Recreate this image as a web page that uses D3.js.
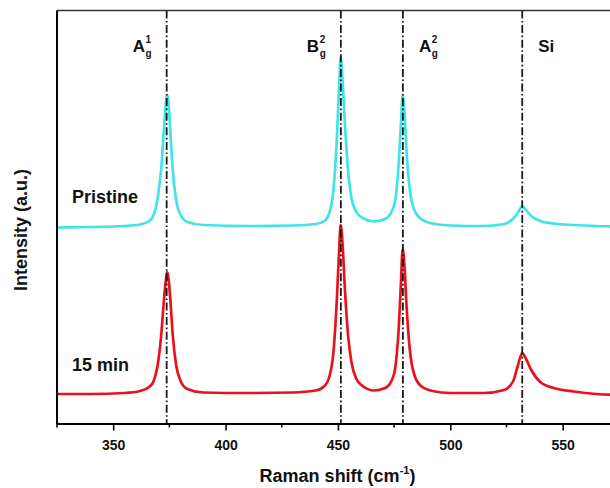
<!DOCTYPE html>
<html>
<head>
<meta charset="utf-8">
<script src="https://cdn.jsdelivr.net/npm/d3@7"></script>
<style>
  body { margin: 0; background: #fff; }
  text { font-family: "Liberation Sans", Arial, sans-serif; font-weight: bold; }
</style>
</head>
<body>
<div id="chart-area"></div>
<script>
// Raman shift grid (cm^-1), shared by both spectra
const shift = [325, 340, 355, 362, 366, 368, 370, 371.5, 372.5, 373.5,
  374, 374.6, 375.5, 376.5, 378, 380, 383, 390, 410, 430,
  440, 444, 446, 448, 449.5, 450.5, 451.2, 452, 453, 454.5,
  456, 458, 461, 466, 471, 474, 475.5, 477, 478, 478.8,
  479.6, 480.5, 482, 484, 487, 492, 500, 515, 524, 528,
  530, 532, 533.5, 536, 540, 546, 555, 565, 575];

// intensities (a.u., offset already included)
const pristine = [196, 196.5, 197.5, 199, 202.5, 208.5, 228.5, 258.5, 291.5, 321.5,
  328.5, 321.5, 288.5, 253.5, 223.5, 208.5, 201.5, 198.5, 197.5, 198,
  199.5, 202.5, 209.5, 233.5, 283.5, 335.5, 366.5, 345.5, 303.5, 253.5,
  225.5, 212.5, 205.5, 202, 204.5, 212.5, 223.5, 258.5, 298.5, 328.5,
  311.5, 273.5, 233.5, 213.5, 204.5, 200, 198, 197.5, 199.5, 205,
  210.5, 217.5, 214, 207.5, 202.5, 200, 198.5, 197.5, 197];

const min15 = [29.5, 29.5, 30.5, 32.5, 36.5, 42.5, 61.5, 91.5, 121.5, 144.5,
  151.5, 145.5, 121.5, 88.5, 58.5, 42.5, 34.5, 31, 30.5, 31,
  33, 37.5, 45.5, 71.5, 123.5, 171.5, 198.5, 181.5, 138.5, 88.5,
  61.5, 45.5, 37.5, 33, 35.5, 43.5, 55.5, 93.5, 138.5, 174.5,
  157.5, 118.5, 73.5, 48.5, 37.5, 32.5, 30.5, 30.5, 33.5, 42.5,
  57.5, 70.5, 65.5, 53.5, 41.5, 35.5, 32, 29.5, 28.5];

const seriesNames = ["Pristine", "15 min"];
const seriesColors = ["#3ee4e8", "#e8121c"];

// mode positions and labels
const modeShift = [373.8, 451.3, 478.9, 532];
const modeMain = ["A", "B", "A", "Si"];
const modeSup = ["1", "2", "2", ""];
const modeSub = ["g", "g", "g", ""];

const majorTicks = [350, 400, 450, 500, 550];
const minorTicks = [325, 375, 425, 475, 525, 575];

const width = 610;
const height = 488;
const margin = { top: 10.5, left: 57, bottom: 64.5 };

const svg = d3
  .select("#chart-area")
  .append("svg")
  .attr("width", width)
  .attr("height", height);

const x = d3.scaleLinear().domain([325, 575]).range([margin.left, margin.left + 250 * 2.2475]);
const y = d3.scaleLinear().domain([0, 413]).range([height - margin.bottom, margin.top]);

svg
  .append("defs")
  .append("clipPath")
  .attr("id", "plot-clip")
  .append("rect")
  .attr("x", margin.left)
  .attr("y", margin.top)
  .attr("width", width - margin.left)
  .attr("height", y(0) - margin.top);

// spectra
const line = d3
  .line()
  .x((d) => x(d[0]))
  .y((d) => y(d[1]))
  .curve(d3.curveMonotoneX);

const series = [pristine, min15].map((vals) => shift.map((s, i) => [s, vals[i]]));

svg
  .append("g")
  .attr("clip-path", "url(#plot-clip)")
  .selectAll("path")
  .data(series)
  .join("path")
  .attr("d", line)
  .attr("fill", "none")
  .attr("stroke", (d, i) => seriesColors[i])
  .attr("stroke-width", 2.7)
  .attr("stroke-linejoin", "round");

// dash-dot mode lines
svg
  .append("g")
  .selectAll("line")
  .data(modeShift)
  .join("line")
  .attr("x1", (d) => x(d))
  .attr("x2", (d) => x(d))
  .attr("y1", margin.top)
  .attr("y2", y(0))
  .attr("stroke", "#1a1a1a")
  .attr("stroke-width", 1.8)
  .attr("stroke-dasharray", "8,2.5,1.6,2.5");

// frame: top border and left axis
svg
  .append("line")
  .attr("x1", margin.left)
  .attr("x2", width)
  .attr("y1", margin.top)
  .attr("y2", margin.top)
  .attr("stroke", "#333")
  .attr("stroke-width", 1.5);

svg
  .append("line")
  .attr("x1", margin.left)
  .attr("x2", margin.left)
  .attr("y1", margin.top)
  .attr("y2", y(0) + 1)
  .attr("stroke", "#000")
  .attr("stroke-width", 2);

// bottom axis
const xAxis = svg
  .append("g")
  .attr("transform", `translate(0, ${y(0)})`)
  .call(d3.axisBottom(x).tickValues(majorTicks).tickSize(7).tickSizeOuter(0).tickPadding(9.5));

xAxis.select(".domain").attr("stroke", "#000").attr("stroke-width", 2);
xAxis.selectAll(".tick line").attr("stroke", "#000").attr("stroke-width", 1.6);
xAxis
  .selectAll(".tick text")
  .attr("fill", "#111")
  .style("font-size", "14px")
  .style("font-family", '"Liberation Sans", Arial, sans-serif')
  .style("font-weight", "bold");

svg
  .append("g")
  .attr("transform", `translate(0, ${y(0)})`)
  .selectAll("line")
  .data(minorTicks)
  .join("line")
  .attr("x1", (d) => x(d))
  .attr("x2", (d) => x(d))
  .attr("y1", 0)
  .attr("y2", 4)
  .attr("stroke", "#000")
  .attr("stroke-width", 1.6);

// mode labels
const labels = svg
  .append("g")
  .selectAll("g")
  .data(modeShift)
  .join("g")
  .attr("transform", (d, i) => `translate(${i < 2 ? x(d) - 34 : x(d) + 16}, 51.7)`);

labels
  .append("text")
  .attr("class", "main")
  .style("font-size", "17px")
  .attr("fill", "#111")
  .text((d, i) => modeMain[i]);

labels.each(function (d, i) {
  const g = d3.select(this);
  const w = g.select(".main").node().getComputedTextLength();
  g.append("text")
    .attr("x", w + 0.5)
    .attr("y", -9)
    .style("font-size", "10px")
    .attr("fill", "#111")
    .text(modeSup[i]);
  g.append("text")
    .attr("x", w + 0.5)
    .attr("y", 5.5)
    .style("font-size", "10px")
    .attr("fill", "#111")
    .text(modeSub[i]);
});

// series names
svg
  .append("g")
  .selectAll("text")
  .data(seriesNames)
  .join("text")
  .attr("x", 72)
  .attr("y", (d, i) => [202.7, 370.7][i])
  .style("font-size", "18px")
  .attr("fill", "#111")
  .text((d) => d);

// axis titles
const xTitle = svg
  .append("text")
  .attr("x", 337.5)
  .attr("y", 481.7)
  .attr("text-anchor", "middle")
  .style("font-size", "18px")
  .attr("fill", "#111");
xTitle.append("tspan").text("Raman shift (cm");
xTitle.append("tspan").attr("dy", -8).style("font-size", "11px").text("-1");
xTitle.append("tspan").attr("dy", 8).text(")");

svg
  .append("text")
  .attr("transform", "translate(26.5, 230) rotate(-90)")
  .attr("text-anchor", "middle")
  .style("font-size", "18px")
  .attr("fill", "#111")
  .text("Intensity (a.u.)");
</script>
</body>
</html>
